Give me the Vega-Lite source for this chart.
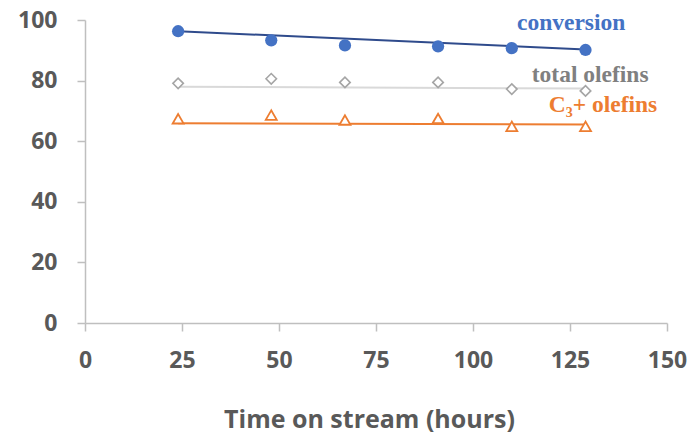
{
  "$schema": "https://vega.github.io/schema/vega-lite/v6.json",
  "autosize": "none",
  "width": 582,
  "height": 303,
  "padding": {"left": 85, "top": 20, "right": 29, "bottom": 111},
  "background": "white",
  "config": {
    "view": {"stroke": null},
    "axis": {
      "grid": false,
      "domainColor": "#BFBFBF",
      "domainWidth": 1.5,
      "tickColor": "#BFBFBF",
      "tickWidth": 1.5,
      "tickSize": 8,
      "labelFont": "Open Sans",
      "labelFontWeight": "bold",
      "labelFontSize": 23,
      "labelColor": "#595959",
      "titleFont": "Open Sans",
      "titleFontWeight": "bold",
      "titleFontSize": 25,
      "titleColor": "#595959"
    }
  },
  "datasets": {
    "points": [
      {"series": "conversion", "time": 24, "value": 96.3},
      {"series": "conversion", "time": 48, "value": 93.3},
      {"series": "conversion", "time": 67, "value": 91.6},
      {"series": "conversion", "time": 91, "value": 91.3},
      {"series": "conversion", "time": 110, "value": 90.7},
      {"series": "conversion", "time": 129, "value": 90.1},
      {"series": "total olefins", "time": 24, "value": 79.1},
      {"series": "total olefins", "time": 48, "value": 80.6},
      {"series": "total olefins", "time": 67, "value": 79.4},
      {"series": "total olefins", "time": 91, "value": 79.4},
      {"series": "total olefins", "time": 110, "value": 77.2},
      {"series": "total olefins", "time": 129, "value": 76.6},
      {"series": "C3+ olefins", "time": 24, "value": 67.4},
      {"series": "C3+ olefins", "time": 48, "value": 68.6},
      {"series": "C3+ olefins", "time": 67, "value": 67.0},
      {"series": "C3+ olefins", "time": 91, "value": 67.5},
      {"series": "C3+ olefins", "time": 110, "value": 64.9},
      {"series": "C3+ olefins", "time": 129, "value": 64.9}
    ],
    "trend": [
      {"series": "conversion", "time": 24, "value": 96.3},
      {"series": "conversion", "time": 129, "value": 90.3},
      {"series": "total olefins", "time": 24, "value": 78.0},
      {"series": "total olefins", "time": 129, "value": 77.4},
      {"series": "C3+ olefins", "time": 24, "value": 65.9},
      {"series": "C3+ olefins", "time": 129, "value": 65.5}
    ],
    "labels": [
      {"series": "conversion", "time": 125.3, "value": 98.9, "text": "conversion"},
      {"series": "total olefins", "time": 130.2, "value": 81.9, "text": "total olefins"},
      {"series": "C3+ olefins", "time": 133.5, "value": 72.0, "text": "C₃+ olefins"}
    ]
  },
  "encoding": {
    "x": {
      "field": "time",
      "type": "quantitative",
      "scale": {"domain": [0, 150], "nice": false},
      "axis": {
        "values": [0, 25, 50, 75, 100, 125, 150],
        "labelFlush": false,
        "labelOverlap": false,
        "labelPadding": 18,
        "title": "Time on stream (hours)",
        "titleX": 284,
        "titleAlign": "center",
        "titlePadding": 35
      }
    },
    "y": {
      "field": "value",
      "type": "quantitative",
      "scale": {"domain": [0, 100], "nice": false},
      "axis": {
        "values": [0, 20, 40, 60, 80, 100],
        "labelPadding": 20,
        "title": null
      }
    }
  },
  "layer": [
    {
      "data": {"name": "trend"},
      "transform": [{"filter": "datum.series === 'total olefins'"}],
      "mark": {"type": "line", "color": "#D9D9D9", "strokeWidth": 2}
    },
    {
      "data": {"name": "trend"},
      "transform": [{"filter": "datum.series === 'C3+ olefins'"}],
      "mark": {"type": "line", "color": "#ED7D31", "strokeWidth": 2}
    },
    {
      "data": {"name": "trend"},
      "transform": [{"filter": "datum.series === 'conversion'"}],
      "mark": {"type": "line", "color": "#2F4B8C", "strokeWidth": 2}
    },
    {
      "data": {"name": "points"},
      "transform": [{"filter": "datum.series === 'total olefins'"}],
      "mark": {"type": "point", "shape": "diamond", "size": 110, "filled": false, "fill": "white", "fillOpacity": 1, "stroke": "#A5A5A5", "strokeWidth": 1.6, "opacity": 1}
    },
    {
      "data": {"name": "points"},
      "transform": [{"filter": "datum.series === 'C3+ olefins'"}],
      "mark": {"type": "point", "shape": "triangle-up", "size": 120, "filled": false, "fill": "white", "fillOpacity": 1, "stroke": "#ED7D31", "strokeWidth": 1.8, "opacity": 1}
    },
    {
      "data": {"name": "points"},
      "transform": [{"filter": "datum.series === 'conversion'"}],
      "mark": {"type": "point", "shape": "circle", "size": 150, "filled": true, "color": "#4472C4", "opacity": 1}
    },
    {
      "data": {"name": "labels"},
      "mark": {"type": "text", "font": "Liberation Serif", "fontWeight": "bold", "fontSize": 23.5, "align": "center", "baseline": "middle"},
      "encoding": {
        "text": {"field": "text"},
        "color": {
          "field": "series",
          "type": "nominal",
          "scale": {"domain": ["conversion", "total olefins", "C3+ olefins"], "range": ["#4472C4", "#808080", "#ED7D31"]},
          "legend": null
        }
      }
    }
  ]
}
